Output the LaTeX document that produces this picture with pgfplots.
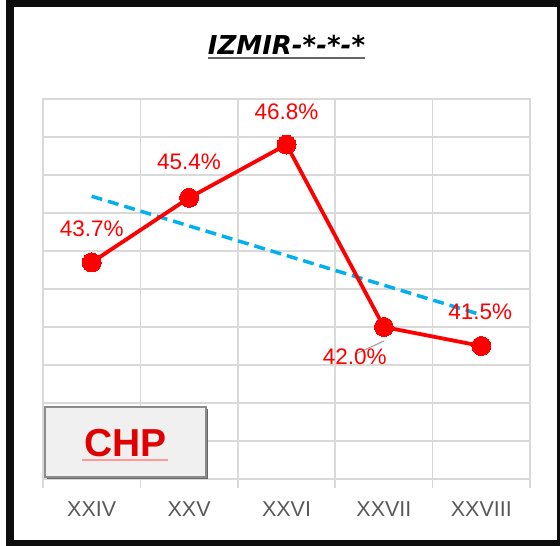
\documentclass[border=0pt]{standalone}
\usepackage{fontspec}
\setmainfont{Liberation Sans}
\newfontfamily\titlefont{DejaVu Sans}
\usepackage{pgfplots}
\pgfplotsset{compat=1.18}
\definecolor{gridgray}{HTML}{D9D9D9}
\definecolor{ticktext}{HTML}{595959}
\definecolor{trendblue}{HTML}{00B0F0}
\definecolor{chpred}{HTML}{E00000}
\begin{document}
\begin{tikzpicture}[x=1pt,y=1pt]
\useasboundingbox (0,0) rectangle (560,546);
\fill[white] (0,0) rectangle (560,546);
\begin{axis}[
  at={(43pt,67pt)}, anchor=south west,
  scale only axis, width=487pt, height=380pt,
  xmin=0.5, xmax=5.5, ymin=38, ymax=48,
  xtick={1,2,3,4,5},
  xticklabels={XXIV,XXV,XXVI,XXVII,XXVIII},
  minor xtick={0.5,1.5,2.5,3.5,4.5,5.5},
  ytick={38,39,...,48}, yticklabels={},
  xminorgrids=true, ymajorgrids=true,
  grid style={draw=gridgray, line width=1.5pt},
  minor grid style={draw=gridgray, line width=1.5pt},
  axis line style={draw=gridgray, line width=1.5pt},
  major tick length=0pt,
  minor tick length=9pt,
  tick align=outside,
  tick pos=left,
  minor tick style={draw=gridgray, line width=1.5pt},
  major tick style={draw=none},
  xticklabel style={font=\fontsize{21.5}{21.5}\selectfont, text=ticktext, anchor=base, yshift=-38pt},
  clip=false,
]
\addplot[trendblue, line width=3.5pt, dash pattern=on 11pt off 6pt] coordinates {(1,45.44) (5,42.32)};
\addplot[red, line width=3.8pt, mark=*, mark size=9.5pt, mark options={solid, fill=red, draw=red, line width=0pt}] coordinates {
  (1,43.7) (2,45.4) (3,46.8) (4,42.0) (5,41.5)};
\draw[gray!70, line width=1.2pt] (axis cs:3.71,41.29) -- (axis cs:4,41.63);
\begin{scope}[every node/.style={text=red, font=\fontsize{22.5}{22.5}\selectfont}]
\node at (axis cs:1,44.58) {43.7\%};
\node at (axis cs:2,46.34) {45.4\%};
\node at (axis cs:3,47.66) {46.8\%};
\node at (axis cs:3.70,41.21) {42.0\%};
\node at (axis cs:4.99,42.39) {41.5\%};
\end{scope}
\end{axis}
% title
\node[font=\titlefont\bfseries\itshape\fontsize{26}{26}\selectfont, anchor=base] at (286.5,491) {IZMIR-*-*-*};
\draw[gray!80!black, line width=1.3pt] (208,488) -- (365,488);
% CHP box
\fill[gray!80!black] (47,67) rectangle (208,137);
\filldraw[fill=black!6, draw=gray!90, line width=1.5pt] (45,69) rectangle (206,139);
\node[text=chpred, font=\bfseries\fontsize{39}{39}\selectfont, anchor=base] at (125.5,89.5) {CHP};
\draw[red!40, line width=1.5pt] (82,86) -- (168,86);
% frame
\draw[black!95, line width=8pt] (10,2) rectangle (561,542.5);
\end{tikzpicture}
\end{document}
